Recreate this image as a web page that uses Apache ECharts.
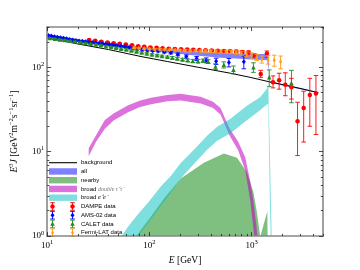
<!DOCTYPE html>
<html><head><meta charset="utf-8">
<script src="https://cdn.jsdelivr.net/npm/echarts@6/dist/echarts.min.js"></script>
<style>html,body{margin:0;padding:0;background:#fff}#c{width:360px;height:270px}</style>
</head><body><div id="c"></div>
<script>
// ---------- ticks ----------
const xMajor = [10, 100, 1000];
const xMinor = [20,30,40,50,60,70,80,90,200,300,400,500,600,700,800,900,2000,3000,4000,5000];
const yMajor = [1, 10, 100];
const yMinor = [2,3,4,5,6,7,8,9,20,30,40,50,60,70,80,90,200,300];

// ---------- model curves ----------
const bgE = [10, 20, 40, 83, 150, 300, 621, 968, 1514, 2500, 4500];
const bgF = [222, 189, 162, 134, 117, 100, 85, 76, 67, 59, 50];

const allE  = [10, 15, 20, 30, 50, 70, 100, 150, 200, 300, 500, 700, 1000, 1300, 1420, 1470, 1500, 2000, 3000, 4500];
const allLo = [226, 210, 199, 186, 172, 165, 157, 149, 144, 137, 130, 127, 124, 122, 121, 95, 66, 61, 55, 49.5];
const allHi = [246, 228, 215, 200, 186, 179, 171, 163, 158, 152, 148, 146, 144, 144, 143, 112, 69, 63, 57, 51];

const nearE  = [60, 74.5, 100, 140, 203, 342, 535, 721, 900, 1043, 1124, 1200, 1215, 1260, 1330, 1425, 1437, 1445];
const nearHi = [0.6, 1.0, 1.6, 2.8, 4.8, 7.4, 9.5, 8.5, 5.7, 3.3, 1.96, 1.1, 0.97, 1.15, 1.45, 1.96, 0.9, 0.5];

const tauE  = [25.5, 30, 36.7, 45, 62, 80, 104, 150, 203, 318, 420, 497, 607, 741, 867, 969, 1037, 1080, 1110, 1150];
const tauLo = [8.8, 13, 18.7, 23.5, 29.4, 33.5, 36.5, 39.5, 40.4, 37.3, 33, 27.5, 15.7, 10.3, 6.0, 2.7, 1.3, 0.8, 0.6, 0.5];
const tauHi = [11, 15.5, 23.8, 28.5, 35.4, 40, 43.5, 47, 48.7, 44.7, 39, 33, 19, 13.1, 8.6, 4.5, 2.7, 1.8, 1.4, 0.9];

const eeE  = [53.3, 65, 80, 100, 130, 163, 200, 274, 369, 461, 621, 900, 1211, 1400, 1459, 1483, 1512, 1541, 1574];
const eeLo = [0.55, 0.75, 1.05, 1.5, 2.3, 3.3, 4.7, 7.2, 10.6, 13.5, 16.5, 23.5, 31, 36, 37, 9, 2.5, 0.9, 0.5];
const eeHi = [1.0, 1.4, 1.9, 2.6, 3.9, 5.2, 7.2, 10.6, 15.5, 19.7, 24.6, 35, 44, 55, 59.8, 25.8, 8.9, 3.06, 1.0];

// ---------- data ----------
const dampeE = [25.7, 29.5, 33.9, 38.9, 44.7, 51.3, 58.9, 67.6, 77.6, 89.1, 102.3, 117.5, 134.9, 154.9, 177.8, 204.2, 234.4, 269.2, 309.0, 354.8, 407.4, 467.7, 537.0, 616.6, 707.9, 812.8, 933.3, 1071, 1230, 1413, 1622, 1862, 2138, 2455, 2818, 3236, 3715, 4266];
const dampeF = [211, 206, 201, 197, 193, 190, 186, 182, 178, 175, 172, 170, 168, 166, 165, 164, 162, 161, 160, 159, 158, 157, 156, 155, 154, 152, 150, 137, 83, 146, 66.5, 70, 62, 58, 23, 33, 47, 49];
const dampeErrLo = [3,3,3,3,3,3,3,3,3,3,3,3,3,3,3,3,3,3,3,3,4,4,4,4,5,5,6,7,7,16,9.5,15,16,16,14,20,27,33];
const dampeErrHi = [3,3,3,3,3,3,3,3,3,3,3,3,3,3,3,3,3,3,3,3,4,4,4,4,5,5,6,7,9,10,12.5,15,24,16,15.5,19,27,31];

const amsE = [10.3, 11.0, 11.8, 12.6, 13.5, 14.5, 15.5, 16.6, 17.8, 19.1, 20.5, 22.1, 23.8, 25.6, 27.6, 29.8, 32.2, 34.8, 37.6, 40.6, 44.0, 48.0, 52.6, 57.7, 63.4, 69.9, 77.1, 85.6, 95.7, 108, 122, 140, 162, 190, 230, 290, 360, 450, 600, 840];
const amsF = [238, 234, 230, 227, 224, 220, 217, 214, 211, 208, 205, 203, 200, 198, 196, 194, 192, 190, 188, 186, 184, 181, 178, 175, 172, 168, 165, 162, 159, 157, 156, 152, 149, 142, 134, 127, 121, 118, 114, 116];
const amsErr = [3,3,3,3,3,3,3,3,3,3,3,3,3,3,3,3,3,3,3,3,3,3,3,3,3,3,3,3,3,3,4,4,5,5,6,7,8,10,13,20];

const caletE = [10.6, 11.9, 13.3, 14.9, 16.7, 18.8, 21.1, 23.7, 26.6, 29.9, 33.5, 37.6, 42.2, 47.3, 53.1, 59.6, 66.8, 75.0, 84.1, 94.4, 106, 119, 133, 150, 168, 188, 211, 237, 266, 299, 335, 376, 444, 535, 665, 1043, 1490, 2457];
const caletF = [222, 218, 214, 210, 206, 202, 198, 194, 190, 186, 182, 178, 174, 170, 166, 162, 158, 154, 150, 146, 142, 139, 136, 133, 130, 127, 124, 121, 119, 118, 120, 117, 102, 107, 93.5, 100, 76, 65];
const caletErr = [3,3,3,3,3,3,3,3,3,3,3,3,3,3,3,3,3,3,3,3,3,3,3,3,4,4,4,4,5,5,5,6,8,9,10,13,17,27];

const fermiE = [71, 79, 89, 100, 112, 126, 141, 158, 178, 200, 224, 251, 282, 316, 355, 398, 447, 501, 562, 631, 708, 794, 891, 1000, 1122, 1260, 1450, 1667, 1923];
const fermiF = [170, 168, 166, 165, 164, 163, 162, 161, 160, 159, 158, 157, 157, 156, 156, 155, 155, 154, 153, 152, 150, 147, 143, 138, 131, 124, 123, 121, 116];
const fermiErr = [3,3,3,3,3,3,3,3,3,3,4,4,4,4,5,5,5,6,6,7,7,8,9,10,11,12,14,18,20];

// ---------- styles ----------
const SERIF = 'Liberation Serif';
const SANS = 'Liberation Sans';
const C = {
  all: 'rgba(0,0,255,0.5)', near: 'rgba(0,128,0,0.5)', tau: 'rgba(191,0,191,0.55)', ee: 'rgba(0,191,191,0.5)',
  dampe: '#ff0000', ams: '#0000ff', calet: '#228b22', fermi: '#ff9a1a'
};
const NAMES = {
  bg: 'background', all: 'all', near: 'nearby', tau: 'broad double τ+τ−', ee: 'broad e+e−',
  dampe: 'DAMPE data', ams: 'AMS-02 data', calet: 'CALET data', fermi: 'Fermi-LAT data'
};

function bandSeries(name, E, lo, hi, color, z) {
  const data = E.map((e, i) => [e, lo[i], hi[i]]);
  return {
    type: 'custom', name, coordinateSystem: 'cartesian2d', clip: true, z, silent: true,
    itemStyle: { color }, encode: { x: 0, y: [1, 2] }, data,
    renderItem(params, api) {
      if (params.dataIndex !== 0) return null;
      const top = data.map(d => api.coord([d[0], d[2]]));
      const bot = data.map(d => api.coord([d[0], d[1]])).reverse();
      return { type: 'polygon', shape: { points: top.concat(bot) },
               style: { fill: color, stroke: null, lineWidth: 0, lineJoin: 'round' } };
    }
  };
}
function areaSeries(name, E, hi, color, z) {
  const data = E.map((e, i) => [e, hi[i]]);
  return {
    type: 'custom', name, coordinateSystem: 'cartesian2d', clip: true, z, silent: true,
    itemStyle: { color }, encode: { x: 0, y: 1 }, data,
    renderItem(params, api) {
      if (params.dataIndex !== 0) return null;
      const top = data.map(d => api.coord([d[0], d[1]]));
      const base = params.coordSys.y + params.coordSys.height + 5;
      const pts = top.concat([[top[top.length - 1][0], base], [top[0][0], base]]);
      return { type: 'polygon', shape: { points: pts }, style: { fill: color, stroke: null, lineWidth: 0 } };
    }
  };
}
function errSeries(name, E, F, lo, hi, color, z) {
  const data = E.map((e, i) => [e, F[i], F[i] - lo[i], F[i] + hi[i]]);
  return {
    type: 'custom', name: name + ' err', coordinateSystem: 'cartesian2d', clip: true, z, silent: true,
    encode: { x: 0, y: [1, 2, 3] }, data,
    renderItem(params, api) {
      const a = api.coord([api.value(0), api.value(2)]);
      const b = api.coord([api.value(0), api.value(3)]);
      const cw = 2.3, st = { stroke: color, lineWidth: 0.9, lineJoin: 'round' };
      return { type: 'group', children: [
        { type: 'line', shape: { x1: a[0], y1: a[1], x2: b[0], y2: b[1] }, style: st },
        { type: 'line', shape: { x1: a[0] - cw, y1: a[1], x2: a[0] + cw, y2: a[1] }, style: st },
        { type: 'line', shape: { x1: b[0] - cw, y1: b[1], x2: b[0] + cw, y2: b[1] }, style: st }
      ] };
    }
  };
}
function markSeries(name, E, F, color, symbol, size, z) {
  return { type: 'scatter', name, data: E.map((e, i) => [e, F[i]]), symbol, symbolSize: size, z,
           itemStyle: { color, opacity: 1 }, silent: true };
}

const tickRich = {
  b: { fontFamily: SERIF, fontSize: 9, lineHeight: 13, color: '#000' },
  s: { fontFamily: SERIF, fontSize: 6.5, lineHeight: 6, verticalAlign: 'top', color: '#000' }
};
const powLabel = v => '{b|10}{s|' + Math.round(Math.log10(v)) + '}';
const tickStyle = { color: '#222', width: 0.8 };
const frame = { show: true, onZero: false, lineStyle: { color: '#888', width: 1.6 } };

function axis(kind, pos, major, labels, ext) {
  const isMajor = kind === 'major';
  return Object.assign({
    type: 'log', logBase: 10, position: pos, z: 10,
    splitLine: { show: false }, minorTick: { show: false }, minorSplitLine: { show: false },
    axisLine: isMajor ? frame : { show: false },
    axisTick: { show: true, inside: true, length: isMajor ? 4 : 2.2, customValues: isMajor ? major[0] : major[1], lineStyle: tickStyle },
    axisLabel: labels ? { show: true, customValues: major[0], margin: 3, formatter: powLabel, rich: tickRich } : { show: false }
  }, ext);
}
const xExt = { min: 10, max: 5000 };
const yExt = { min: 1, max: 300 };
const xT = [xMajor, xMinor], yT = [yMajor, yMinor];

const xAxes = [
  axis('major', 'bottom', xT, true, Object.assign({
    name: '{i|E} [GeV]', nameLocation: 'middle', nameGap: 13,
    nameTextStyle: { fontFamily: SERIF, fontSize: 9.5, color: '#000',
      rich: { i: { fontFamily: SERIF, fontStyle: 'italic', fontSize: 9.5, color: '#000' } } }
  }, xExt)),
  axis('minor', 'bottom', xT, false, xExt),
  axis('major', 'top', xT, false, xExt),
  axis('minor', 'top', xT, false, xExt)
];
const yAxes = [
  axis('major', 'left', yT, true, Object.assign({
    name: '{i|E}{s|3}{i|J} [GeV{s|2}m{s|−2}s{s|−1}sr{s|−1}]', nameLocation: 'middle', nameGap: 16, nameRotate: 90,
    nameTextStyle: { fontFamily: SERIF, fontSize: 9.5, lineHeight: 13, color: '#000',
      rich: { i: { fontFamily: SERIF, fontStyle: 'italic', fontSize: 9.5, lineHeight: 13, color: '#000' },
              s: { fontFamily: SERIF, fontSize: 6.5, lineHeight: 6, verticalAlign: 'top', color: '#000' } } }
  }, yExt)),
  axis('minor', 'left', yT, false, yExt),
  axis('major', 'right', yT, false, yExt),
  axis('minor', 'right', yT, false, yExt)
];

const series = [
  bandSeries(NAMES.all, allE, allLo, allHi, C.all, 1),
  areaSeries(NAMES.near, nearE, nearHi, C.near, 2),
  bandSeries(NAMES.tau, tauE, tauLo, tauHi, C.tau, 3),
  bandSeries(NAMES.ee, eeE, eeLo, eeHi, C.ee, 4),
  { type: 'line', name: NAMES.bg, data: bgE.map((e, i) => [e, bgF[i]]), showSymbol: false, symbol: 'none', z: 5,
    lineStyle: { color: '#000', width: 1 }, itemStyle: { color: '#000' }, silent: true },
  errSeries(NAMES.dampe, dampeE, dampeF, dampeErrLo, dampeErrHi, C.dampe, 6),
  markSeries(NAMES.dampe, dampeE, dampeF, C.dampe, 'circle', 4.5, 6),
  errSeries(NAMES.ams, amsE, amsF, amsErr, amsErr, C.ams, 7),
  markSeries(NAMES.ams, amsE, amsF, C.ams, 'diamond', [4, 5], 7),
  errSeries(NAMES.calet, caletE, caletF, caletErr, caletErr, C.calet, 8),
  markSeries(NAMES.calet, caletE, caletF, C.calet, 'triangle', 4.5, 8),
  errSeries(NAMES.fermi, fermiE, fermiF, fermiErr, fermiErr, C.fermi, 9),
  markSeries(NAMES.fermi, fermiE, fermiF, C.fermi, 'diamond', [3, 5], 9)
];

// ---------- legend (graphic) ----------
const legendRows = [
  { kind: 'line', color: '#000', text: 'background' },
  { kind: 'rect', color: C.all, text: 'all' },
  { kind: 'rect', color: C.near, text: 'nearby' },
  { kind: 'rect', color: C.tau, text: 'broad {m|double τ⁺τ⁻}' },
  { kind: 'rect', color: C.ee, text: 'broad {e|e⁺e⁻}' },
  { kind: 'mark', color: C.dampe, shape: 'circle', text: 'DAMPE data' },
  { kind: 'mark', color: C.ams, shape: 'diamond', text: 'AMS-02 data' },
  { kind: 'mark', color: C.calet, shape: 'triangle', text: 'CALET data' },
  { kind: 'mark', color: C.fermi, shape: 'thin', text: 'Fermi-LAT data' }
];
const LX = 49, LW = 28, LY0 = 162.7, LDY = 8.75, TX = 81;
const legendEls = [];
legendRows.forEach((r, i) => {
  const y = LY0 + LDY * i;
  if (r.kind === 'line') {
    legendEls.push({ type: 'line', shape: { x1: LX, y1: y, x2: LX + LW, y2: y }, style: { stroke: r.color, lineWidth: 1.1 } });
  } else if (r.kind === 'rect') {
    legendEls.push({ type: 'rect', shape: { x: LX, y: y - 3.2, width: LW, height: 6.4 }, style: { fill: r.color, stroke: null, lineWidth: 0 } });
  } else {
    [LX + 3.5, LX + LW - 4.5].forEach(cx => {
      const st = { stroke: r.color, lineWidth: 0.9 };
      legendEls.push({ type: 'line', shape: { x1: cx, y1: y - 3.8, x2: cx, y2: y + 3.8 }, style: st });
      legendEls.push({ type: 'line', shape: { x1: cx - 2.3, y1: y - 3.8, x2: cx + 2.3, y2: y - 3.8 }, style: st });
      legendEls.push({ type: 'line', shape: { x1: cx - 2.3, y1: y + 3.8, x2: cx + 2.3, y2: y + 3.8 }, style: st });
      let shp;
      if (r.shape === 'circle') shp = { type: 'circle', shape: { cx, cy: y, r: 2.2 } };
      else if (r.shape === 'diamond') shp = { type: 'polygon', shape: { points: [[cx, y - 2.5], [cx + 2, y], [cx, y + 2.5], [cx - 2, y]] } };
      else if (r.shape === 'triangle') shp = { type: 'polygon', shape: { points: [[cx, y - 2.4], [cx + 2.3, y + 1.9], [cx - 2.3, y + 1.9]] } };
      else shp = { type: 'polygon', shape: { points: [[cx, y - 2.5], [cx + 1.4, y], [cx, y + 2.5], [cx - 1.4, y]] } };
      shp.style = { fill: r.color, stroke: null, lineWidth: 0 };
      legendEls.push(shp);
    });
  }
  legendEls.push({ type: 'text', x: TX, y,
    style: { text: r.text, fill: '#000', fontFamily: SANS, fontSize: 6, align: 'left', verticalAlign: 'middle',
      rich: { m: { fontFamily: SERIF, fontStyle: 'italic', fontSize: 6, fill: '#777', color: '#777' },
              e: { fontFamily: SERIF, fontStyle: 'italic', fontSize: 6.5, fill: '#000', color: '#000' } } } });
});

const chart = echarts.init(document.getElementById('c'), null, { renderer: 'canvas' });
chart.setOption({
  animation: false,
  backgroundColor: '#fff',
  grid: { left: 45, right: 37, top: 27, bottom: 28, show: false },
  xAxis: xAxes,
  yAxis: yAxes,
  graphic: { elements: [{ type: 'group', z: 100, silent: true, children: legendEls }] },
  series
});
</script>
</body></html>
